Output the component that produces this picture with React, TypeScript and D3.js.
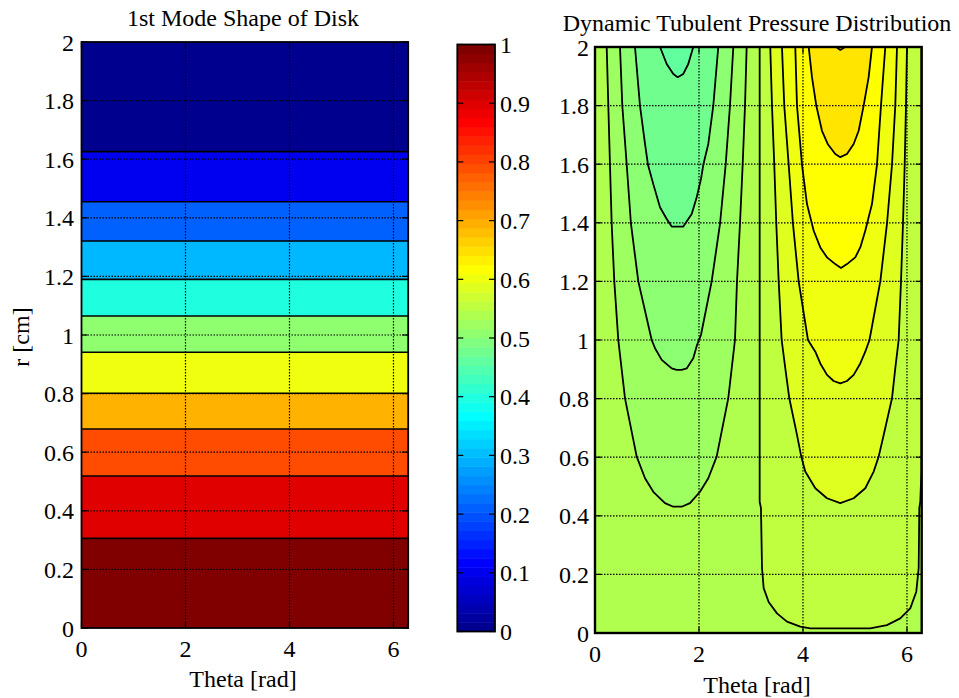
import React from 'react';
import * as d3 from 'd3';

// ---------- data ----------
const thetaTicks = [0, 2, 4, 6];
const rTicks = [0, 0.2, 0.4, 0.6, 0.8, 1, 1.2, 1.4, 1.6, 1.8, 2];
const cbTicks = [0, 0.1, 0.2, 0.3, 0.4, 0.5, 0.6, 0.7, 0.8, 0.9, 1];

// 1st mode shape: band edges in r and the normalized amplitude of each band
const modeBandEdges = [0, 0.306, 0.519, 0.679, 0.801, 0.941, 1.065, 1.19, 1.321, 1.455, 1.626, 2];
const modeBandValues = [1.0, 0.905, 0.8, 0.7, 0.61, 0.515, 0.405, 0.305, 0.22, 0.11, 0.015];

// Pressure contours: [theta, r] points
const pressureBaseLevel = 0.5475;
const contourG1: [number, number][] = [[0.225,2],[0.256,1.8],[0.288,1.598],[0.321,1.396],[0.371,1.2],[0.448,1.0],[0.577,0.801],[0.802,0.602],[0.962,0.528],[1.121,0.482],[1.346,0.443],[1.506,0.431],[1.667,0.431],[1.827,0.443],[2.019,0.482],[2.179,0.528],[2.34,0.602],[2.563,0.801],[2.692,1.0],[2.731,1.2],[2.788,1.396],[2.84,1.598],[2.885,1.8],[2.917,2]];
const contourG2: [number, number][] = [[0.481,2],[0.525,1.8],[0.61,1.598],[0.692,1.396],[0.833,1.2],[1.09,1.0],[1.154,0.972],[1.283,0.932],[1.475,0.903],[1.571,0.898],[1.667,0.898],[1.763,0.903],[1.89,0.938],[1.962,0.983],[2.038,1.017],[2.244,1.2],[2.404,1.396],[2.513,1.598],[2.596,1.8],[2.66,2]];
const contourG3: [number, number][] = [[0.769,2],[0.865,1.8],[0.962,1.669],[1.019,1.598],[1.121,1.532],[1.25,1.453],[1.379,1.413],[1.475,1.387],[1.698,1.387],[1.86,1.43],[1.956,1.487],[2.038,1.549],[2.083,1.598],[2.179,1.669],[2.275,1.8],[2.371,2]];
const contourG4: [number, number][] = [[1.25,2],[1.379,1.942],[1.506,1.908],[1.59,1.897],[1.698,1.908],[1.794,1.942],[1.89,2]];
const contourC0: [number, number][] = [[3.167,2],[3.167,0.448],[3.192,0.426],[3.212,0.222],[3.244,0.153],[3.34,0.106],[3.5,0.067],[3.692,0.039],[3.948,0.022],[4.14,0.016],[5.294,0.016],[5.615,0.027],[5.871,0.05],[6.063,0.084],[6.179,0.141],[6.225,0.221],[6.237,0.426],[6.256,0.448],[6.278,0.55],[6.278,2]];
const contourY1: [number, number][] = [[3.371,2],[3.404,1.8],[3.448,1.598],[3.487,1.396],[3.533,1.2],[3.59,1.0],[3.66,0.903],[3.737,0.801],[3.885,0.676],[3.967,0.602],[4.044,0.551],[4.237,0.494],[4.462,0.46],[4.717,0.443],[4.975,0.46],[5.198,0.494],[5.36,0.551],[5.456,0.602],[5.552,0.676],[5.712,0.801],[5.775,0.903],[5.84,1.0],[5.885,1.2],[5.923,1.396],[5.956,1.598],[5.981,1.8],[6.0,2]];
const contourY2: [number, number][] = [[3.596,2],[3.64,1.8],[3.725,1.598],[3.808,1.396],[3.917,1.2],[4.096,1.0],[4.237,0.96],[4.333,0.92],[4.462,0.881],[4.59,0.86],[4.717,0.852],[4.846,0.86],[4.975,0.881],[5.102,0.92],[5.198,0.96],[5.279,1.0],[5.487,1.2],[5.615,1.396],[5.712,1.598],[5.775,1.8],[5.808,2]];
const contourY3: [number, number][] = [[3.852,2],[3.885,1.8],[3.981,1.598],[4.077,1.464],[4.206,1.373],[4.333,1.316],[4.462,1.282],[4.621,1.259],[4.731,1.246],[4.846,1.259],[5.006,1.282],[5.102,1.316],[5.198,1.373],[5.327,1.464],[5.423,1.598],[5.5,1.8],[5.583,2]];
const contourY4: [number, number][] = [[4.11,2],[4.173,1.897],[4.256,1.8],[4.365,1.714],[4.475,1.669],[4.621,1.635],[4.717,1.624],[4.846,1.635],[4.975,1.669],[5.071,1.714],[5.167,1.8],[5.263,1.897],[5.327,2]];
const contourY5: [number, number][] = [[4.64,2],[4.717,1.99],[4.81,2]];

const pressureContours = [contourG1, contourG2, contourG3, contourG4, contourC0, contourY1, contourY2, contourY3, contourY4, contourY5];
const pressureInsideLevels = [0.53, 0.512, 0.485, 0.47, 0.563, 0.594, 0.61, 0.625, 0.65, 0.6675];

// ---------- colormap ----------
const jet = (v: number) => {
  const c = (x: number) => Math.max(0, Math.min(1, x));
  const r = c(1.5 - Math.abs(4 * v - 3));
  const g = c(1.5 - Math.abs(4 * v - 2));
  const b = c(1.5 - Math.abs(4 * v - 1));
  return d3.rgb(r * 255, g * 255, b * 255).formatHex();
};
const jet64 = (k: number) => {
  // MATLAB jet(64), k = 1..64
  const u = (j: number) => (j < 1 || j > 47 ? 0 : j <= 16 ? j / 16 : j <= 31 ? 1 : (48 - j) / 16);
  return d3.rgb(u(k - 24) * 255, u(k - 8) * 255, u(k + 8) * 255).formatHex();
};

const FONT = "'Liberation Serif', 'Times New Roman', serif";
const FS = 24;
const fmt = (v: number) => String(Math.round(v * 10) / 10);

export default function App() {
  const TWO_PI = 2 * Math.PI;
  const xL = d3.scaleLinear().domain([0, TWO_PI]).range([81.5, 408.2]);
  const yL = d3.scaleLinear().domain([0, 2]).range([628, 42]);
  const xR = d3.scaleLinear().domain([0, TWO_PI]).range([595, 921.7]);
  const yR = d3.scaleLinear().domain([0, 2]).range([633, 47]);
  const yC = d3.scaleLinear().domain([0, 1]).range([631.5, 44.5]);
  const cbX0 = 457.3, cbX1 = 495;
  const TL = 6;

  const lineR = d3.line<[number, number]>().x(d => xR(d[0])).y(d => yR(d[1]));

  const grid = (xs: any, ys: any, key: string) => {
    const [x0, x1] = xs.range();
    const [y1, y0] = ys.range();
    return (
      <g key={key} stroke="#000" strokeWidth={1.2} strokeDasharray="1.5,1.5" fill="none">
        {thetaTicks.filter(t => t > 0).map(t => (
          <line key={'v' + t} x1={xs(t)} x2={xs(t)} y1={y0} y2={y1} />
        ))}
        {rTicks.filter(r => r > 0 && r < 2).map(r => (
          <line key={'h' + r} x1={x0} x2={x1} y1={ys(r)} y2={ys(r)} />
        ))}
      </g>
    );
  };

  const ticks = (xs: any, ys: any, key: string) => {
    const [x0, x1] = xs.range();
    const [y1, y0] = ys.range();
    return (
      <g key={key} stroke="#000" strokeWidth={1.2}>
        {thetaTicks.map(t => (
          <g key={'xt' + t}>
            <line x1={xs(t)} x2={xs(t)} y1={y1} y2={y1 - TL} />
            <line x1={xs(t)} x2={xs(t)} y1={y0} y2={y0 + TL} />
          </g>
        ))}
        {rTicks.map(r => (
          <g key={'yt' + r}>
            <line x1={x0} x2={x0 + TL} y1={ys(r)} y2={ys(r)} />
            <line x1={x1} x2={x1 - TL} y1={ys(r)} y2={ys(r)} />
          </g>
        ))}
      </g>
    );
  };

  const axisLabels = (xs: any, ys: any, xBase: number, yRight: number, key: string) => (
    <g key={key} fontFamily={FONT} fontSize={FS} fill="#000">
      {thetaTicks.map(t => (
        <text key={'xl' + t} x={xs(t)} y={xBase} textAnchor="middle">{fmt(t)}</text>
      ))}
      {rTicks.map(r => (
        <text key={'yl' + r} x={yRight} y={ys(r) + 8.5} textAnchor="end">{fmt(r)}</text>
      ))}
    </g>
  );

  return (
    <svg width={959} height={698} style={{ position: 'absolute', left: 0, top: 0, background: '#fff' }}>
      <defs>
        <clipPath id="clipR">
          <rect x={xR(0)} y={yR(2)} width={xR(TWO_PI) - xR(0)} height={yR(0) - yR(2)} />
        </clipPath>
      </defs>

      {/* ---------- Left: mode shape ---------- */}
      <text x={243} y={26} textAnchor="middle" fontFamily={FONT} fontSize={FS}>1st Mode Shape of Disk</text>
      {modeBandValues.map((v, i) => (
        <rect key={'band' + i} x={xL(0)} width={xL(TWO_PI) - xL(0)}
          y={yL(modeBandEdges[i + 1])} height={yL(modeBandEdges[i]) - yL(modeBandEdges[i + 1])}
          fill={jet(v)} />
      ))}
      {modeBandEdges.slice(1, -1).map((r, i) => (
        <line key={'bl' + i} x1={xL(0)} x2={xL(TWO_PI)} y1={yL(r)} y2={yL(r)} stroke="#000" strokeWidth={1.6} />
      ))}
      {grid(xL, yL, 'gl')}
      {ticks(xL, yL, 'tl')}
      <rect x={xL(0)} y={yL(2)} width={xL(TWO_PI) - xL(0)} height={yL(0) - yL(2)} fill="none" stroke="#000" strokeWidth={1.8} />
      {axisLabels(xL, yL, 656.5, 74, 'al')}
      <text x={243} y={686.5} textAnchor="middle" fontFamily={FONT} fontSize={FS}>Theta [rad]</text>
      <text transform={`translate(29,337) rotate(-90)`} textAnchor="middle" fontFamily={FONT} fontSize={FS}>r [cm]</text>

      {/* ---------- Colorbar ---------- */}
      {d3.range(1, 65).map(k => (
        <rect key={'cb' + k} x={cbX0} width={cbX1 - cbX0}
          y={yC(k / 64)} height={yC((k - 1) / 64) - yC(k / 64) + 0.5} fill={jet64(k)} />
      ))}
      <g stroke="#000" strokeWidth={1.2}>
        {cbTicks.map(v => (
          <g key={'cbt' + v}>
            <line x1={cbX0} x2={cbX0 + TL} y1={yC(v)} y2={yC(v)} />
            <line x1={cbX1} x2={cbX1 - TL} y1={yC(v)} y2={yC(v)} />
          </g>
        ))}
      </g>
      <rect x={cbX0} y={yC(1)} width={cbX1 - cbX0} height={yC(0) - yC(1)} fill="none" stroke="#000" strokeWidth={1.8} />
      <g fontFamily={FONT} fontSize={FS}>
        {cbTicks.map(v => (
          <text key={'cbl' + v} x={500} y={yC(v) + 8.5}>{fmt(v)}</text>
        ))}
      </g>

      {/* ---------- Right: pressure contours ---------- */}
      <text x={757} y={31} textAnchor="middle" fontFamily={FONT} fontSize={FS}>Dynamic Tubulent Pressure Distribution</text>
      <g clipPath="url(#clipR)">
        <rect x={xR(0)} y={yR(2)} width={xR(TWO_PI) - xR(0)} height={yR(0) - yR(2)} fill={jet(pressureBaseLevel)} />
        {pressureContours.map((c, i) => (
          <path key={'pf' + i} d={lineR(c) + 'Z'} fill={jet(pressureInsideLevels[i])} stroke="none" />
        ))}
        {pressureContours.map((c, i) => (
          <path key={'pl' + i} d={lineR(c) || ''} fill="none" stroke="#000" strokeWidth={1.8} strokeLinejoin="round" />
        ))}
      </g>
      {grid(xR, yR, 'gr')}
      {ticks(xR, yR, 'tr')}
      <rect x={xR(0)} y={yR(2)} width={xR(TWO_PI) - xR(0)} height={yR(0) - yR(2)} fill="none" stroke="#000" strokeWidth={2.4} />
      {axisLabels(xR, yR, 662, 589, 'ar')}
      <text x={757} y={692.5} textAnchor="middle" fontFamily={FONT} fontSize={FS}>Theta [rad]</text>
    </svg>
  );
}
